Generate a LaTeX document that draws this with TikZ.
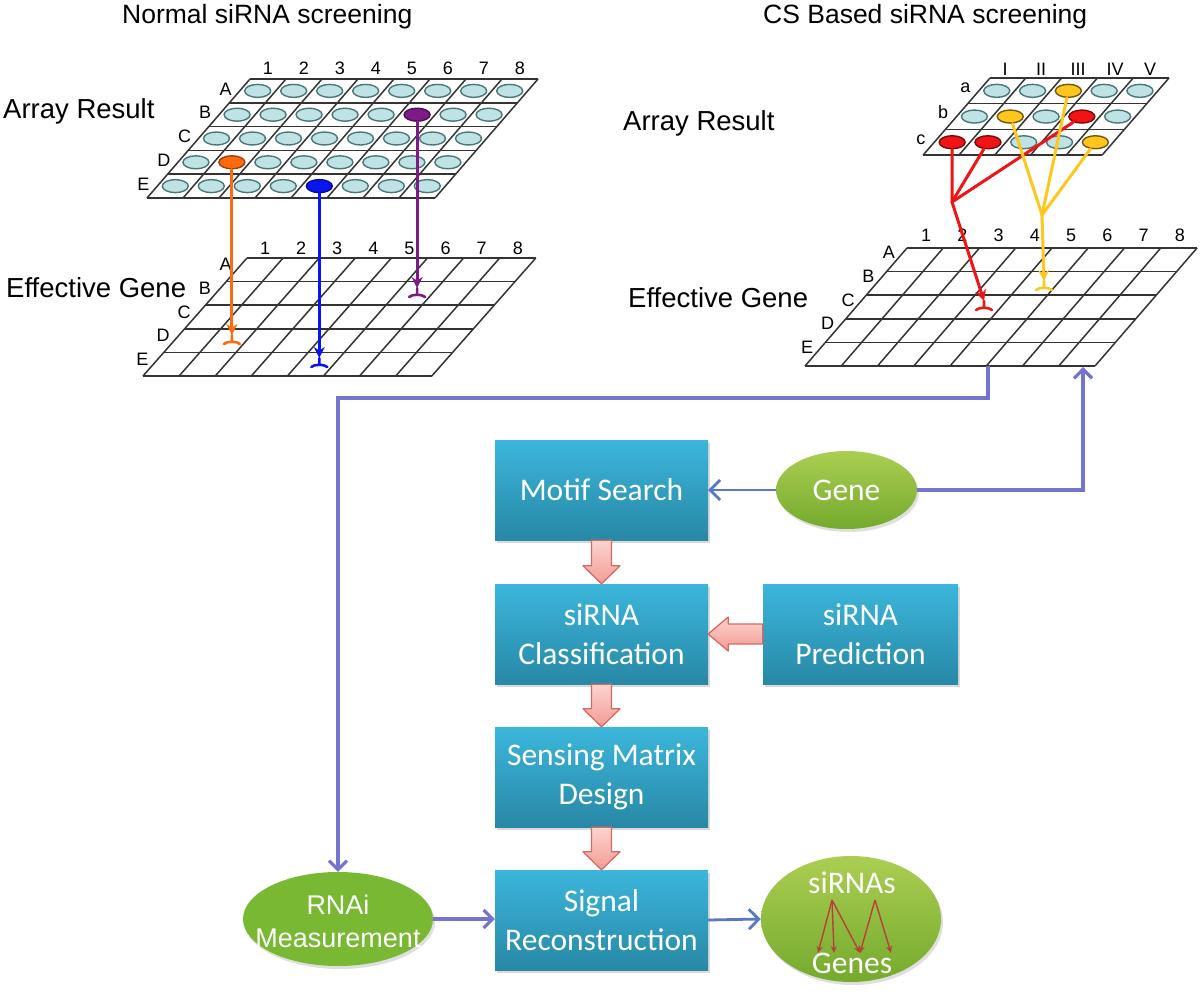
\documentclass[tikz,border=0pt]{standalone}
\usepackage{fontspec}
\setmainfont{Liberation Sans}
\newfontfamily\calib{Carlito}
\usetikzlibrary{arrows.meta,calc,shadows,shapes.geometric}
\definecolor{gridc}{HTML}{333333}
\definecolor{wellfill}{HTML}{BFE2E4}
\definecolor{welldraw}{HTML}{4A7678}
\definecolor{boxtop}{HTML}{3BB6DB}
\definecolor{boxbot}{HTML}{2888A6}
\definecolor{pinktop}{HTML}{FCD4CF}
\definecolor{pinkbot}{HTML}{F29C94}
\definecolor{pinkdraw}{HTML}{D66A62}
\definecolor{lav}{HTML}{7474CF}
\definecolor{bluearr}{HTML}{5A78C6}
\definecolor{gtop}{HTML}{ABCE52}
\definecolor{gbot}{HTML}{74AA2D}
\definecolor{rnaig}{HTML}{78B832}
\definecolor{orangeL}{HTML}{FF6A10}
\definecolor{blueL}{HTML}{0A14F0}
\definecolor{purpleL}{HTML}{7E1A88}
\definecolor{redL}{HTML}{F01414}
\definecolor{yellowL}{HTML}{FFC61E}
\definecolor{darkred}{HTML}{B8403C}
\newcommand\plate[7]{%
  \foreach \i in {0,...,#4}{\draw[gridline] ({#1-\i*#7},{#2+\i*#6}) -- ({#1-\i*#7+#3*#5},{#2+\i*#6});}
  \foreach \j in {0,...,#3}{\draw[gridline] ({#1+\j*#5},{#2}) -- ({#1+\j*#5-#4*#7},{#2+#4*#6});}
}
\newcommand\teeat[2]{\draw[#1,line width=2.6pt,line cap=round] (#2) -- ++(0,6)
  ($(#2)+(-8,9)$) .. controls ($(#2)+(-5,6)$) and ($(#2)+(5,6)$) .. ($(#2)+(8,9)$);}
\begin{document}
\begin{tikzpicture}[x=1pt,y=-1pt,
  gridline/.style={draw=gridc,line width=1.5pt},
  well/.style={ellipse,minimum width=26pt,minimum height=13pt,inner sep=0pt,line width=1.4pt},
  gl/.style={font=\fontsize{18}{20}\selectfont,inner sep=0pt},
  heading/.style={font=\fontsize{27.5}{30}\selectfont,inner sep=0pt,anchor=base west},
  title/.style={font=\fontsize{26.5}{30}\selectfont,inner sep=0pt,anchor=base west},
  cline/.style={line width=3pt,line cap=round},
  endtip/.style={-{Stealth[length=11pt,width=11pt]}},
  box/.style={rectangle,minimum width=213pt,minimum height=100pt,inner sep=2pt,top color=boxtop,bottom color=boxbot,text=white,font=\calib\fontsize{31.5}{39}\selectfont,align=center,drop shadow={opacity=0.3,shadow xshift=2pt,shadow yshift=-3pt}},
  gell/.style={ellipse,inner sep=0pt,top color=gtop,bottom color=gbot,text=white,font=\calib\fontsize{31.5}{39}\selectfont,drop shadow={opacity=0.25,shadow xshift=2pt,shadow yshift=-3pt}},
  gtext/.style={text=white,font=\calib\fontsize{31.5}{39}\selectfont,inner sep=0pt},
  pinkblk/.style={top color=pinktop,bottom color=pinkbot,draw=pinkdraw,line width=1.3pt,line join=round},
  lavline/.style={draw=lav,line width=3.2pt,-{Straight Barb[length=9pt,width=18pt]}},
  bline/.style={draw=bluearr,line width=2.8pt,-{Straight Barb[length=10pt,width=20pt]}},
  redarr/.style={draw=darkred,line width=1.4pt,-{Stealth[length=7pt,width=6pt]}},
]
\useasboundingbox (0,0) rectangle (1200,996);

% ---------- headings ----------
\node[title] (t1) at (122,23) {Normal siRNA screening};
\node[title] (t2) at (763,23) {CS Based siRNA screening};
\node[heading] (ar1) at (3,118) {Array Result};
\node[heading] (eg1) at (6,297) {Effective Gene};
\node[heading] (ar2) at (623,130) {Array Result};
\node[heading] (eg2) at (628,307) {Effective Gene};

% ---------- left array result ----------
\plate{250}{79}{8}{5}{36}{23.8}{20.6}
\foreach \n in {1,...,8}{\node[gl] (la-c\n) at ({250+(\n-0.5)*36},68) {\n};}
\foreach \l [count=\r from 0] in {A,B,C,D,E}{\node[gl] (la-r\l) at ({250-(\r+0.5)*20.6-14},{79+(\r+0.5)*23.8-2}) {\l};}
\foreach \r in {0,...,4}{\foreach \c in {0,...,7}{%
  \def\wellF{wellfill}\def\wellD{welldraw}%
  \ifnum\r\c=31 \def\wellF{orangeL}\def\wellD{orangeL!60!black}\fi
  \ifnum\r\c=15 \def\wellF{purpleL}\def\wellD{purpleL!60!black}\fi
  \ifnum\r\c=44 \def\wellF{blueL}\def\wellD{blueL!60!black}\fi
  \node[well,fill=\wellF,draw=\wellD] (L\r\c) at ({250+(\c+0.5)*36-(\r+0.5)*20.6},{79+(\r+0.5)*23.8}) {};
}}

% ---------- left effective gene ----------
\plate{247}{258}{8}{5}{36.1}{23.6}{20.8}
\foreach \n in {1,...,8}{\node[gl] (le-c\n) at ({247+(\n-0.5)*36.1},248) {\n};}
\foreach \l [count=\r from 0] in {A,B,C,D,E}{\node[gl] (le-r\l) at ({247-(\r+0.5)*20.8-11},{258+(\r+0.5)*23.6-5}) {\l};}

% left connectors
\coordinate (tO) at (L31 |- 0,335);
\coordinate (tB) at (L44 |- 0,358);
\coordinate (tP) at (L15 |- 0,288);
\draw[cline,orangeL,endtip] (L31) -- (tO);
\draw[cline,blueL,endtip] (L44) -- (tB);
\draw[cline,purpleL,endtip] (L15) -- (tP);
\teeat{orangeL}{tO}
\teeat{blueL}{tB}
\teeat{purpleL}{tP}

% ---------- right array result ----------
\plate{990}{78}{5}{3}{35.8}{25.7}{22.3}
\node[gl] (ra-c1) at (1005,69) {I};
\node[gl] (ra-c2) at (1041,69) {II};
\node[gl] (ra-c3) at (1078,69) {III};
\node[gl] (ra-c4) at (1115,69) {IV};
\node[gl] (ra-c5) at (1150,69) {V};
\foreach \l [count=\r from 0] in {a,b,c}{\node[gl,anchor=base] (ra-r\l) at ({990-(\r+0.5)*22.3-13.5},{78+(\r+0.5)*25.7+2}) {\l};}
\foreach \r in {0,...,2}{\foreach \c in {0,...,4}{%
  \def\wellF{wellfill}\def\wellD{welldraw}%
  \ifnum\r\c=2 \def\wellF{yellowL}\def\wellD{yellowL!45!black}\fi
  \ifnum\r\c=11 \def\wellF{yellowL}\def\wellD{yellowL!45!black}\fi
  \ifnum\r\c=24 \def\wellF{yellowL}\def\wellD{yellowL!45!black}\fi
  \ifnum\r\c=13 \def\wellF{redL}\def\wellD{redL!50!black}\fi
  \ifnum\r\c=20 \def\wellF{redL}\def\wellD{redL!50!black}\fi
  \ifnum\r\c=21 \def\wellF{redL}\def\wellD{redL!50!black}\fi
  \node[well,fill=\wellF,draw=\wellD] (R\r\c) at ({990+(\c+0.5)*35.8-(\r+0.5)*22.3},{78+(\r+0.5)*25.7}) {};
}}

% ---------- right effective gene ----------
\plate{907}{248}{8}{5}{36.25}{23.6}{20.4}
\foreach \n in {1,...,8}{\node[gl] (re-c\n) at ({907+(\n-0.5)*36.25+1},235) {\n};}
\foreach \l [count=\r from 0] in {A,B,C,D,E}{\node[gl] (re-r\l) at ({907-(\r+0.5)*20.4-8},{248+(\r+0.5)*23.6-7}) {\l};}

% right connectors
\coordinate (Jr) at (952,202);
\coordinate (Jy) at (1042,215);
\coordinate (tR) at (984,301);
\coordinate (tY) at (1044,281);
\draw[cline,redL] (R20) -- (Jr);
\draw[cline,redL] (R21) -- (Jr);
\draw[cline,redL] (R13) -- (Jr);
\draw[cline,redL,endtip] (Jr) -- (tR);
\draw[cline,yellowL] (R02) -- (Jy);
\draw[cline,yellowL] (R11) -- (Jy);
\draw[cline,yellowL] (R24) -- (Jy);
\draw[cline,yellowL,endtip] (Jy) -- (tY);
\teeat{redL}{tR}
\teeat{yellowL}{tY}

% ---------- flow chart ----------
\node[box] (motif) at (601.5,490) {Motif Search};
\node[box] (classif) at (601.5,634) {siRNA\\Classification};
\node[box,minimum width=195pt] (pred) at (860.5,634) {siRNA\\Prediction};
\node[box] (sensing) at (601.5,777) {Sensing Matrix\\Design};
\node[box] (signal) at (601.5,920) {Signal\\Reconstruction};

\node[gell,minimum width=141pt,minimum height=78pt] (gene) at (846.5,490) {Gene};
\node[ellipse,inner sep=0pt,minimum width=190pt,minimum height=94pt,fill=rnaig,
      drop shadow={opacity=0.25,shadow xshift=2pt,shadow yshift=-3pt}] (rnai) at (338,919) {};
\node[text=white,align=center,inner sep=0pt,font=\fontsize{27}{33}\selectfont] (rnaiT) at (338,921) {RNAi\\Measurement};
\node[gell,minimum width=180pt,minimum height=126pt] (sirnas) at (851,919) {};
\node[gtext] (tS) at (852,883) {siRNAs};
\node[gtext] (tG) at (852,963) {Genes};

% red arrows in result ellipse
\coordinate (p1) at (832,900);
\coordinate (p2) at (875,900);
\coordinate (q1) at (818,953);
\coordinate (q2) at (834,953);
\coordinate (q3) at (860,953);
\coordinate (q4) at (891,953);
\draw[redarr] (p1) -- (q1);
\draw[redarr] (p1) -- (q2);
\draw[redarr] (p1) -- (q3);
\draw[redarr] (p2) -- (q3);
\draw[redarr] (p2) -- (q4);

% pink block arrows
\newcommand\downblk[2]{\draw[pinkblk] ($(#1.south)+(-10,0)$) -- ($(#2.north)+(-10,-18)$) -- ($(#2.north)+(-18.5,-18)$) -- (#2.north) -- ($(#2.north)+(18.5,-18)$) -- ($(#2.north)+(10,-18)$) -- ($(#1.south)+(10,0)$) -- cycle;}
\downblk{motif}{classif}
\downblk{classif}{sensing}
\downblk{sensing}{signal}
\draw[pinkblk] ($(pred.west)+(0,-10)$) -- ($(classif.east)+(20,-10)$) -- ($(classif.east)+(20,-17)$) -- (classif.east) -- ($(classif.east)+(20,17)$) -- ($(classif.east)+(20,10)$) -- ($(pred.west)+(0,10)$) -- cycle;

% lavender / blue connectors
\coordinate (gB) at (988,366);
\coordinate (gBend) at (988,398);
\coordinate (gT) at (1083,367);
\draw[lavline] (gB) -- (gBend) -| (rnai.north);
\draw[lavline] (gene.east) -| (gT);
\draw[bline] (gene.west) -- (gene.west -| motif.east);
\draw[lavline] (rnai.east) -- (rnai.east -| signal.west);
\draw[bline] (signal.east) -- (sirnas.west);
\end{tikzpicture}
\end{document}
